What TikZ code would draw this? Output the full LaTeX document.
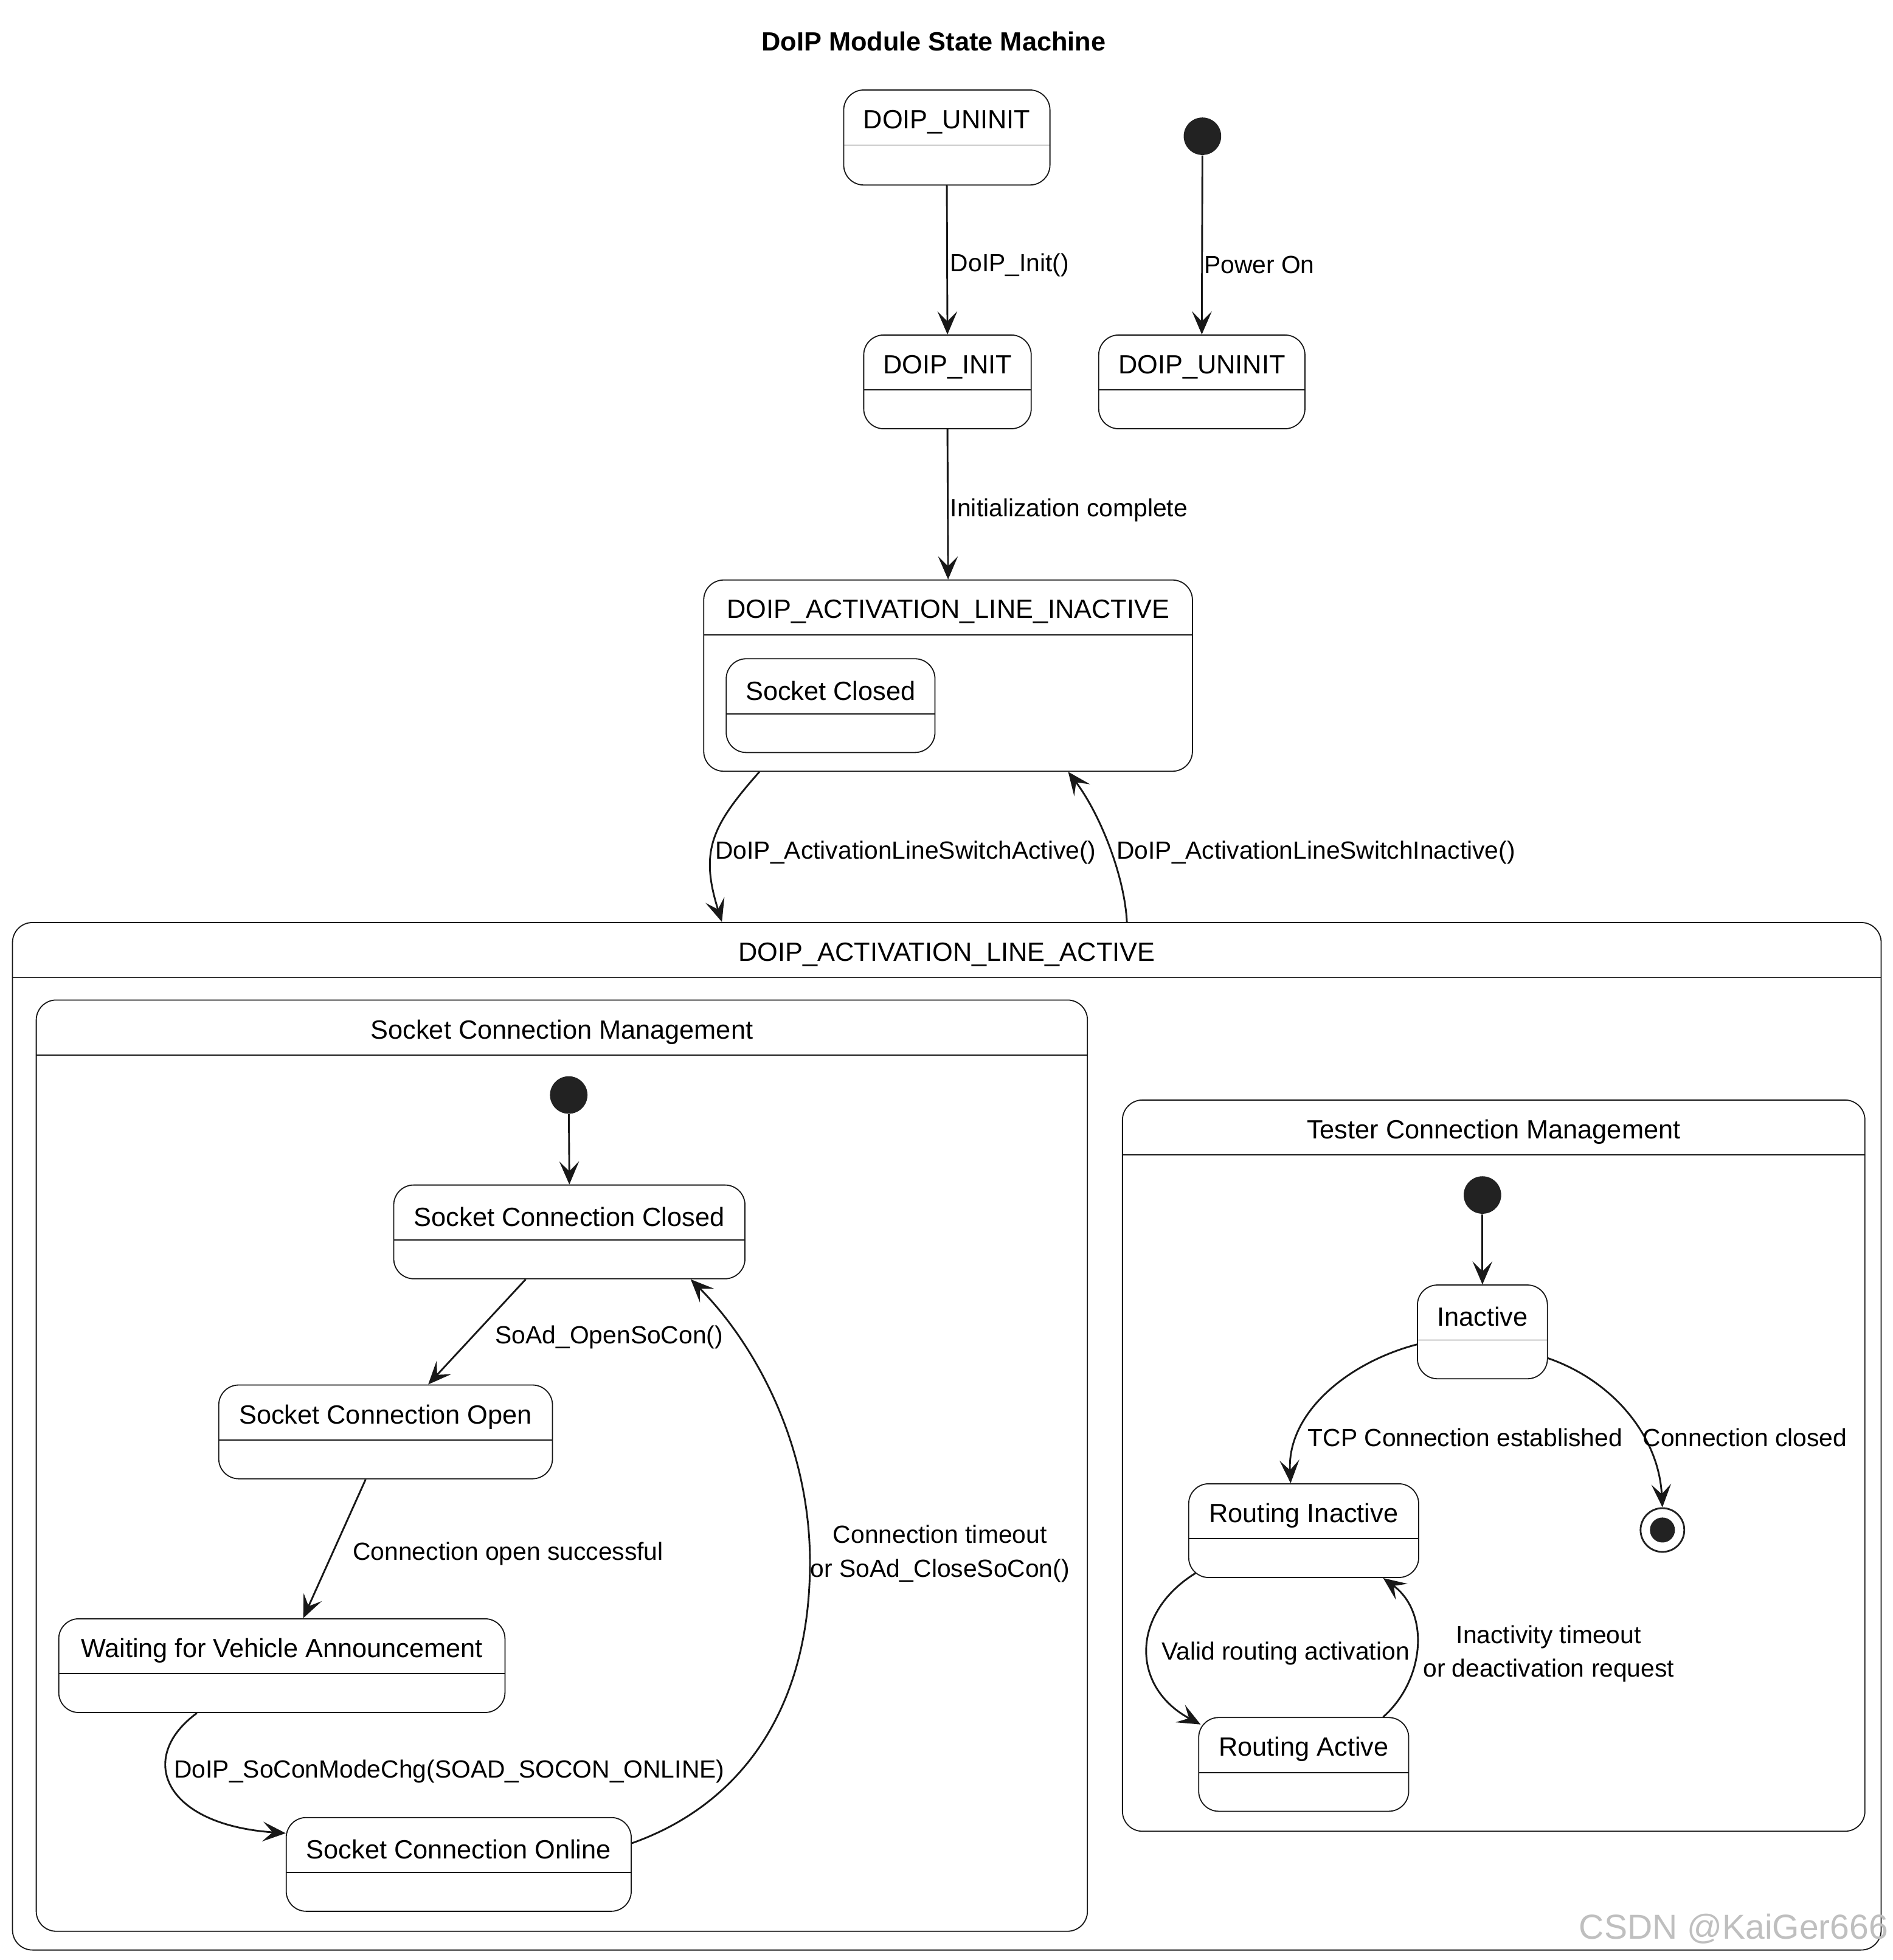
\documentclass[tikz,border=0pt]{standalone}
\usepackage{fontspec}
\setmainfont{Liberation Sans}
\usetikzlibrary{arrows.meta,calc,fit}
\definecolor{ln}{HTML}{181818}
\definecolor{dotc}{HTML}{222222}
\tikzset{
 stbox/.style={draw=ln, line width=0.5pt, rounded corners=0.32cm, inner sep=0pt, rectangle},
 divline/.style={draw=ln, line width=0.5pt},
 sttitle/.style={font=\fontsize{12}{14}\selectfont, inner sep=0pt},
 lbl/.style={font=\fontsize{11.3}{13.6}\selectfont, inner sep=0pt, anchor=west},
 lblc/.style={font=\fontsize{11.3}{15.3}\selectfont, inner sep=0pt, align=center},
 tr/.style={draw=ln, line width=0.8pt, -{Stealth[length=10.5pt,width=9pt,inset=4.5pt]}},
 initdot/.style={circle, fill=dotc, minimum size=0.6cm, inner sep=0pt},
}
\newcommand\mkstate[7]{%
  \node[stbox, fit={(#2,#3) (#4,#5)}] (#1) {};
  \draw[divline] (#2,#6) -- (#4,#6);
  \node[sttitle] (#1-t) at ({(#2+#4)/2},{(#3+#6)/2+3.5}) {#7};
}
\begin{document}
\begin{tikzpicture}[x=0.02cm,y=-0.02cm]
\useasboundingbox (0,0) rectangle (1514,1568);
\node[font=\bfseries\fontsize{12}{14}\selectfont, inner sep=0pt] (title) at (747,33) {DoIP Module State Machine};

\mkstate{u1}{675}{72}{840}{148}{116}{DOIP\_UNINIT}
\mkstate{init}{691}{268}{825}{343}{312}{DOIP\_INIT}
\mkstate{u2}{879}{268}{1044}{343}{312}{DOIP\_UNINIT}
\mkstate{inact}{563}{464}{954}{617}{508}{DOIP\_ACTIVATION\_LINE\_INACTIVE}
\mkstate{sockc}{581}{527}{748}{602}{571}{Socket Closed}
\mkstate{act}{10}{738}{1505}{1560}{782}{DOIP\_ACTIVATION\_LINE\_ACTIVE}
\mkstate{scm}{29}{800}{870}{1545}{844}{Socket Connection Management}
\mkstate{scc}{315}{948}{596}{1023}{992}{Socket Connection Closed}
\mkstate{sco}{175}{1108}{442}{1183}{1152}{Socket Connection Open}
\mkstate{wva}{47}{1295}{404}{1370}{1339}{Waiting for Vehicle Announcement}
\mkstate{scon}{229}{1454}{505}{1529}{1498}{Socket Connection Online}
\mkstate{tcm}{898}{880}{1492}{1465}{924}{Tester Connection Management}
\mkstate{tin}{1134}{1028}{1238}{1103}{1072}{Inactive}
\mkstate{rin}{951}{1187}{1135}{1262}{1231}{Routing Inactive}
\mkstate{ract}{959}{1374}{1127}{1449}{1418}{Routing Active}

\node[initdot] (i1) at (962,109) {};
\node[initdot] (i2) at (455,876) {};
\node[initdot] (i3) at (1186,956) {};
\node[circle, draw=dotc, line width=0.8pt, minimum size=0.7cm, inner sep=0pt] (fin) at (1330,1224) {};
\node[circle, fill=dotc, minimum size=0.4cm, inner sep=0pt] (finin) at (fin) {};

% connectors
\draw[tr] (u1.south) -- (init.north);
\draw[tr] (i1) -- (u2.north);
\draw[tr] (init.south) -- (inact.north);
\draw[tr] ($(inact.south west)+(45,0)$) .. controls +(-38,43) and +(-18,-57) .. ($(act.north west)+(568,0)$);
\draw[tr] ($(act.north west)+(892,0)$) .. controls +(-2,-38) and +(25,33) .. ($(inact.south west)+(292,0)$);
\draw[tr] (i2) -- (scc.north);
\draw[tr] ($(scc.south west)+(106,0)$) -- ($(sco.north west)+(168,0)$);
\draw[tr] ($(sco.south west)+(118,0)$) -- ($(wva.north west)+(196,0)$);
\draw[tr] ($(wva.south west)+(111,0)$) .. controls +(-48,35) and +(-99,-7) .. ($(scon.north west)+(0,13)$);
\draw[tr] ($(scon.north east)+(0,21)$) .. controls +(85,-30) and +(0,120) .. (648,1250) .. controls +(0,-100) and +(47,47) .. ($(scc.south west)+(238,0)$);
\draw[tr] (i3) -- (tin.north);
\draw[tr] ($(tin.north west)+(0,48)$) .. controls +(-54,14) and +(-3,-57) .. ($(rin.north west)+(82,0)$);
\draw[tr] ($(tin.north east)+(0,59)$) .. controls +(52,18) and +(-3,-57) .. (fin.north);
\draw[tr] ($(rin.south west)+(6,-4)$) .. controls +(-52,32) and +(-56,-30) .. ($(ract.north west)+(2,6)$);
\draw[tr] ($(ract.north west)+(148,0)$) .. controls +(33,-29) and +(38,28) .. ($(rin.south west)+(156,0)$);

% labels
\node[lbl] (l1) at (760,212) {DoIP\_Init()};
\node[lbl] (l2) at (963,212) {Power On};
\node[lbl] (l3) at (760,408) {Initialization complete};
\node[lbl] (l4) at (572,682) {DoIP\_ActivationLineSwitchActive()};
\node[lbl] (l5) at (893,682) {DoIP\_ActivationLineSwitchInactive()};
\node[lbl] (l6) at (396,1070) {SoAd\_OpenSoCon()};
\node[lbl] (l7) at (282,1243) {Connection open successful};
\node[lbl] (l8) at (139,1417) {DoIP\_SoConModeChg(SOAD\_SOCON\_ONLINE)};
\node[lblc] (l9) at (752,1243) {Connection timeout\\or SoAd\_CloseSoCon()};
\node[lbl] (l10) at (1046,1150) {TCP Connection established};
\node[lbl] (l11) at (1314,1150) {Connection closed};
\node[lbl] (l12) at (929,1323) {Valid routing activation};
\node[lblc] (l13) at (1239,1323) {Inactivity timeout\\or deactivation request};

\node[font=\fontsize{15.8}{18}\selectfont, text=gray!50, inner sep=0pt] (wm) at (1387,1543) {CSDN @KaiGer666};
\end{tikzpicture}
\end{document}
